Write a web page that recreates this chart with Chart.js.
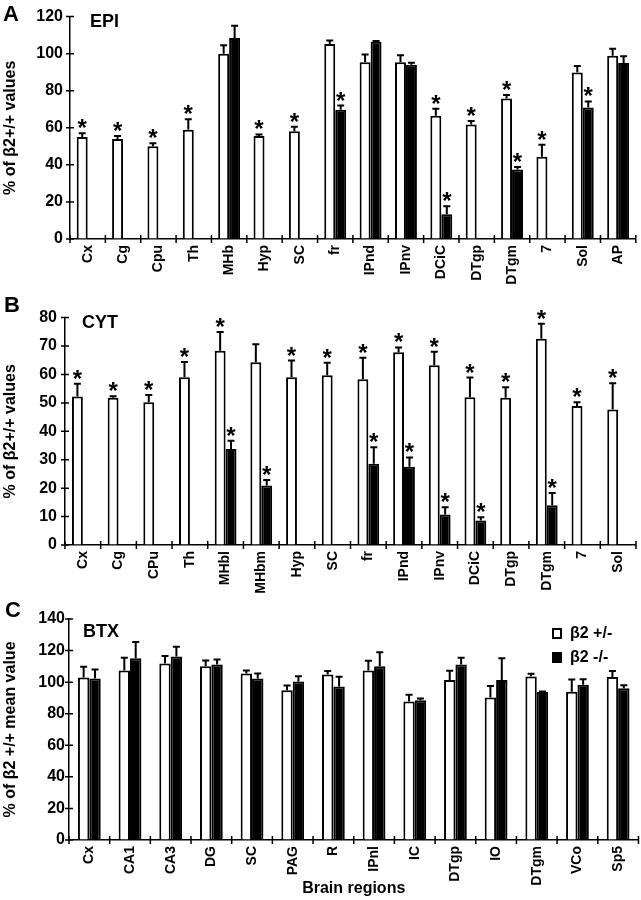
<!DOCTYPE html>
<html>
<head>
<meta charset="utf-8">
<script src="https://cdn.jsdelivr.net/npm/chart.js@4.4.1/dist/chart.umd.min.js"></script>
<style>
  html, body { margin: 0; padding: 0; background: #fff; }
  #wrap { position: relative; width: 641px; height: 900px; overflow: hidden; font-family: "Liberation Sans", Arial, Helvetica, sans-serif; }
  canvas { position: absolute; left: 0; }
  .t { position: absolute; font-weight: bold; line-height: 1; white-space: nowrap; color: #000; }
  .sq { position: absolute; width: 10px; height: 11px; box-sizing: border-box; border: 2px solid #000; }
</style>
</head>
<body>
<div id="wrap">
  <canvas id="cA" width="641" height="300" style="top:0px"></canvas>
  <canvas id="cB" width="641" height="300" style="top:300px"></canvas>
  <canvas id="cC" width="641" height="300" style="top:600px"></canvas>
</div>
<script>
// ---------- Panel A : EPI ----------
const catsA = ["Cx","Cg","Cpu","Th","MHb","Hyp","SC","fr","IPnd","IPnv","DCiC","DTgp","DTgm","7","Sol","AP"];
const hetA    = [55, 54, 50, 59, 100, 55.6, 58.2, 105.2, 95.4, 95.4, 66.5, 61.8, 75.8, 44.4, 89.9, 98.9];
const hetErrA = [2, 1.6, 1.7, 5.6, 4.6, 0.8, 2.3, 1.9, 4.1, 3.7, 3.8, 1.9, 1.9, 6.4, 3.4, 3.7];
const hetStarA = [1,1,1,1,0,1,1,0,0,0,1,1,1,1,0,0];
const koA     = [null, null, null, null, 108.5, null, null, 69.7, 106.4, 94, 13.3, null, 37.5, null, 71, 95];
const koErrA  = [0, 0, 0, 0, 6.5, 0, 0, 2.3, 0.4, 1.1, 4.4, 0, 1.4, 0, 3.2, 3.6];
const koStarA = [0,0,0,0,0,0,0,1,0,0,1,0,1,0,1,0];
const ticksA  = [0, 20, 40, 60, 80, 100, 120];

// ---------- Panel B : CYT ----------
const catsB = ["Cx","Cg","CPu","Th","MHbl","MHbm","Hyp","SC","fr","IPnd","IPnv","DCiC","DTgp","DTgm","7","Sol"];
const hetB    = [52.2, 51.8, 50.2, 59, 68.3, 64.3, 59, 59.7, 58.3, 67.8, 63.2, 52, 51.8, 72.6, 48.9, 47.7];
const hetErrB = [4.5, 0.5, 2.6, 5.4, 6.6, 6.3, 5.9, 4.4, 7.6, 1.7, 4.8, 6.9, 3.7, 5.2, 1.3, 9.2];
const hetStarB = [1,1,1,1,1,0,1,1,1,1,1,1,1,1,1,1];
const koB     = [null, null, null, null, 33.8, 20.9, null, null, 28.6, 27.5, 10.7, 8.6, null, 14, null, null];
const koErrB  = [0, 0, 0, 0, 2.9, 2, 0, 0, 5.8, 3.3, 2.6, 1.2, 0, 4.3, 0, 0];
const koStarB = [0,0,0,0,1,1,0,0,1,1,1,1,0,1,0,0];
const ticksB  = [0, 10, 20, 30, 40, 50, 60, 70, 80];

// ---------- Panel C : BTX ----------
const catsC = ["Cx","CA1","CA3","DG","SC","PAG","R","IPnl","IC","DTgp","IO","DTgm","VCo","Sp5"];
const hetC    = [103, 107.4, 111.8, 110.1, 105.5, 94.9, 104.9, 107.4, 87.8, 101.3, 90.3, 103.6, 93.9, 103.2];
const hetErrC = [6.7, 8, 4.7, 3.6, 1.9, 3, 2.1, 6.1, 4.2, 5.9, 7.2, 1.7, 7.8, 3.8];
const koC     = [102.3, 115.2, 116.3, 111.2, 102.3, 100.4, 97.3, 110.1, 88.6, 111.2, 101.3, 93.7, 98.3, 96.2];
const koErrC  = [5.7, 10.3, 6.1, 3.2, 3.2, 3.4, 6.1, 8.9, 1.1, 4.2, 13.9, 0.4, 3.6, 1.9];
const noStarC = [0,0,0,0,0,0,0,0,0,0,0,0,0,0];
const ticksC  = [0, 20, 40, 60, 80, 100, 120, 140];

const legendLabels = ["\u03B22 +/-", "\u03B22 -/-"];

const FONT = '"Liberation Sans", Arial, Helvetica, sans-serif';
Chart.defaults.font.family = FONT;
Chart.defaults.color = '#000';

const errPlugin = {
  id: 'errs',
  afterDatasetsDraw(chart) {
    const ctx = chart.ctx, ys = chart.scales.y;
    ctx.save();
    ctx.strokeStyle = '#000'; ctx.fillStyle = '#000'; ctx.lineWidth = 2;
    chart.data.datasets.forEach((ds, di) => {
      const meta = chart.getDatasetMeta(di);
      meta.data.forEach((el, i) => {
        const v = ds.data[i];
        if (v == null) return;
        const yt = ys.getPixelForValue(v + (ds.err[i] || 0));
        ctx.beginPath();
        ctx.moveTo(el.x, el.y); ctx.lineTo(el.x, yt);
        ctx.moveTo(el.x - 3.5, yt); ctx.lineTo(el.x + 3.5, yt);
        ctx.stroke();
        if (ds.stars[i]) {
          ctx.font = 'bold 24px ' + FONT;
          ctx.textAlign = 'center'; ctx.textBaseline = 'alphabetic';
          ctx.fillText('*', el.x, yt + 3);
        }
      });
    });
    ctx.restore();
  },
  afterDraw(chart) {
    const ctx = chart.ctx, xs = chart.scales.x, ys = chart.scales.y;
    const a = chart.chartArea;
    ctx.save();
    ctx.strokeStyle = '#000'; ctx.lineWidth = 1.5;
    ctx.beginPath();
    ys.ticks.forEach(t => {
      const py = ys.getPixelForValue(t.value);
      ctx.moveTo(a.left - 4, py); ctx.lineTo(a.left + 4, py);
    });
    const n = chart.data.labels.length;
    const w = (xs.right - xs.left) / n;
    for (let i = 0; i <= n; i++) {
      const px = xs.left + i * w;
      ctx.moveTo(px, a.bottom - 4); ctx.lineTo(px, a.bottom + 4);
    }
    ctx.stroke();
    ctx.restore();
  }
};

function makeChart(id, labels, het, hetErr, hetStar, ko, koErr, koStar, tickVals, c) {
  new Chart(document.getElementById(id), {
    type: 'bar',
    data: {
      labels: labels,
      datasets: [
        { label: legendLabels[0], data: het, err: hetErr, stars: hetStar,
          backgroundColor: '#fff', borderColor: '#000', borderWidth: 2 },
        { label: legendLabels[1], data: ko, err: koErr, stars: koStar,
          backgroundColor: '#000', borderColor: '#000', borderWidth: 2 }
      ]
    },
    options: {
      responsive: false, animation: false, devicePixelRatio: 1,
      categoryPercentage: c.catPct, barPercentage: 1,
      layout: { padding: { top: c.padTop, right: 2, left: 0, bottom: 0 } },
      plugins: { legend: { display: false }, tooltip: { enabled: false } },
      scales: {
        x: {
          grid: { display: true, drawOnChartArea: false, drawTicks: false },
          border: { color: '#000', width: 1.5 },
          ticks: { color: '#000', autoSkip: false, maxRotation: 90, minRotation: 90, padding: 6,
                   font: { size: 14, weight: 'bold' } },
          title: { display: !!c.xTitle, text: c.xTitle || '', color: '#000',
                   font: { size: 16, weight: 'bold' }, padding: { top: 2, bottom: 2 } },
          afterFit(s) { s.height = c.xH; }
        },
        y: {
          min: tickVals[0], max: tickVals[tickVals.length - 1],
          afterBuildTicks(s) { s.ticks = tickVals.map(v => ({ value: v })); },
          grid: { display: true, drawOnChartArea: false, drawTicks: false },
          border: { color: '#000', width: 1.5 },
          ticks: { color: '#000', padding: c.yPad, font: { size: 16, weight: 'bold' } },
          title: { display: true, text: c.yTitle, color: '#000',
                   font: { size: 16, weight: 'bold' }, padding: { top: 1, bottom: 1 } },
          afterFit(s) { s.width = c.yW; }
        }
      }
    },
    plugins: [errPlugin]
  });
}

makeChart('cA', catsA, hetA, hetErrA, hetStarA, koA, koErrA, koStarA, ticksA,
  { catPct: 0.62, padTop: 13, xH: 61, yW: 70, yPad: 7, yTitle: '% of \u03B22+/+ values' });
makeChart('cB', catsB, hetB, hetErrB, hetStarB, koB, koErrB, koStarB, ticksB,
  { catPct: 0.61, padTop: 13, xH: 55, yW: 65, yPad: 8, yTitle: '% of \u03B22+/+ values' });
makeChart('cC', catsC, hetC, hetErrC, noStarC, koC, koErrC, noStarC, ticksC,
  { catPct: 0.56, padTop: 19, xH: 60, yW: 69, yPad: 4, yTitle: '% of \u03B22 +/+ mean value', xTitle: 'Brain regions' });

// overlay text (panel letters, panel names, legend)
const wrap = document.getElementById('wrap');
function txt(s, left, baseline, size) {
  const d = document.createElement('div');
  d.className = 't'; d.textContent = s;
  d.style.fontSize = size + 'px';
  d.style.left = left + 'px';
  d.style.top = (baseline - 0.8465 * size) + 'px';
  wrap.appendChild(d);
}
function sq(left, top, filled) {
  const d = document.createElement('div');
  d.className = 'sq';
  d.style.left = left + 'px'; d.style.top = top + 'px';
  d.style.background = filled ? '#000' : '#fff';
  wrap.appendChild(d);
}
txt('A', 3, 22, 22);   txt('EPI', 90, 27, 18);
txt('B', 4, 313, 22);  txt('CYT', 82, 328, 18);
txt('C', 5, 618, 22);  txt('BTX', 83, 637, 18);
sq(552, 628, false); txt(legendLabels[0], 570, 639, 16);
sq(552, 652, true);  txt(legendLabels[1], 570, 663, 16);
</script>
</body>
</html>
